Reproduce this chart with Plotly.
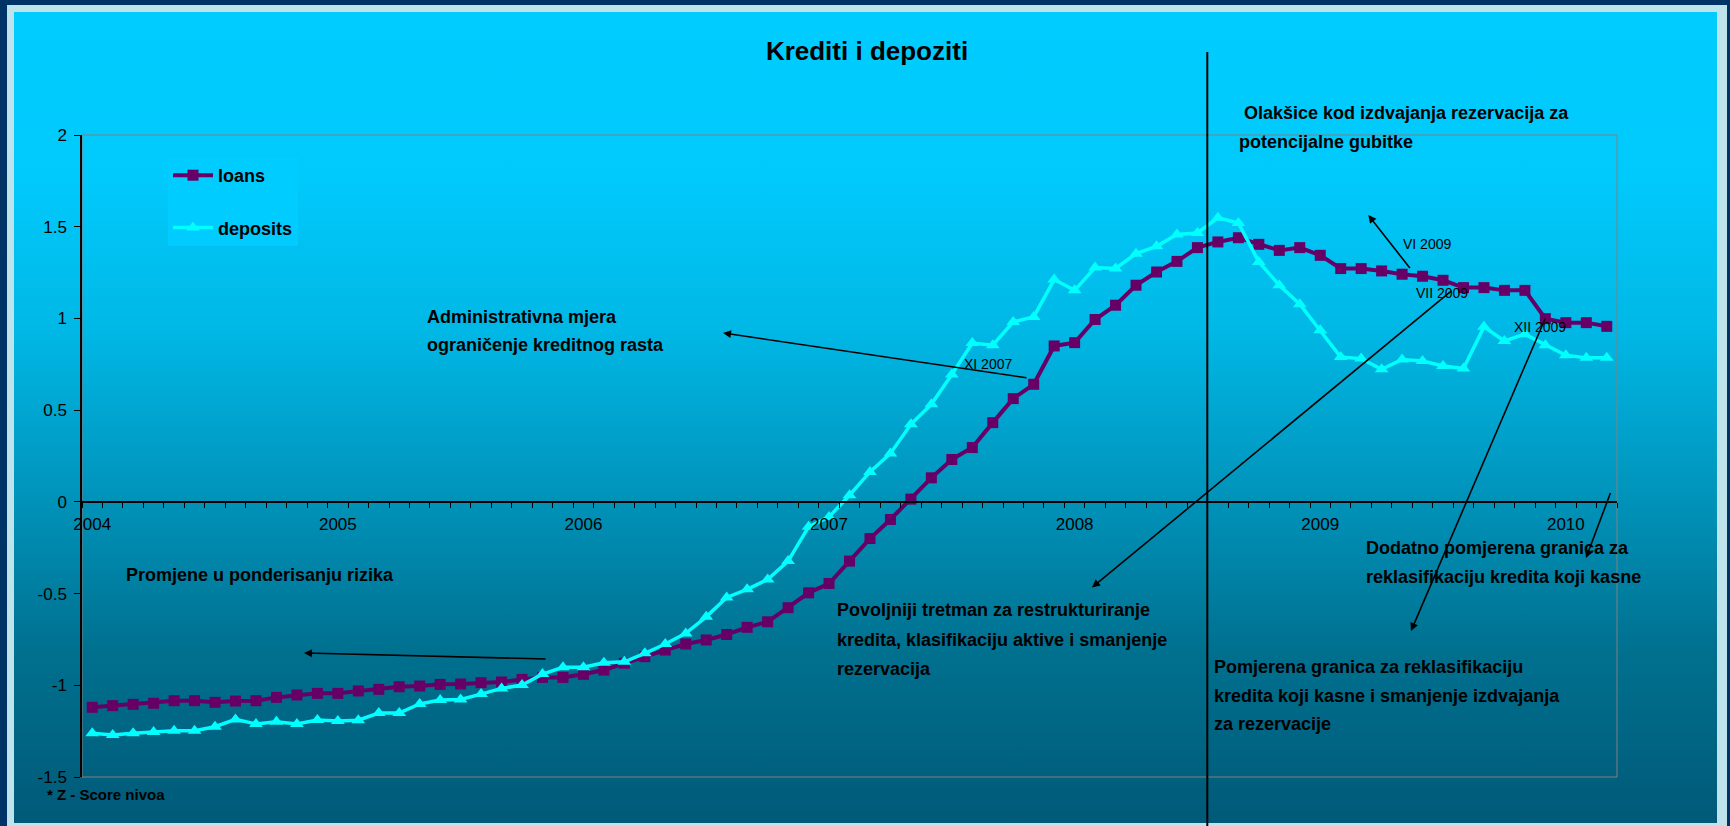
import urllib.parse
import plotly.graph_objects as go

# ---------------- data ----------------
years = ["2004", "2005", "2006", "2007", "2008", "2009", "2010"]

loans = [
    -1.120, -1.111, -1.104, -1.098, -1.084, -1.084, -1.093, -1.086, -1.084, -1.066, -1.053, -1.044,
    -1.044, -1.031, -1.022, -1.008, -1.004, -0.995, -0.993, -0.986, -0.982, -0.968, -0.957, -0.957,
    -0.940, -0.917, -0.880, -0.844, -0.808, -0.775, -0.753, -0.723, -0.684, -0.654, -0.577, -0.496,
    -0.445, -0.323, -0.200, -0.096, 0.015, 0.131, 0.231, 0.296, 0.432, 0.563, 0.641, 0.850,
    0.868, 0.994, 1.072, 1.181, 1.253, 1.311, 1.386, 1.417, 1.440, 1.404, 1.371, 1.386,
    1.344, 1.272, 1.272, 1.259, 1.241, 1.230, 1.208, 1.168, 1.168, 1.153, 1.153, 0.999,
    0.977, 0.977, 0.957,
]

deposits = [
    -1.262, -1.271, -1.262, -1.255, -1.248, -1.248, -1.226, -1.186, -1.211, -1.199, -1.211, -1.189,
    -1.195, -1.190, -1.151, -1.151, -1.102, -1.080, -1.077, -1.048, -1.017, -0.999, -0.939, -0.902,
    -0.902, -0.877, -0.872, -0.826, -0.775, -0.717, -0.627, -0.521, -0.477, -0.423, -0.323, -0.136,
    -0.082, 0.036, 0.163, 0.264, 0.423, 0.532, 0.694, 0.866, 0.854, 0.981, 1.008, 1.212,
    1.153, 1.277, 1.272, 1.353, 1.393, 1.458, 1.466, 1.549, 1.520, 1.308, 1.181, 1.077,
    0.935, 0.790, 0.781, 0.723, 0.776, 0.768, 0.741, 0.727, 0.954, 0.877, 0.914, 0.854,
    0.799, 0.785, 0.785,
]

months = [f"{2004 + i // 12}-{i % 12 + 1:02d}" for i in range(len(loans))]
x_idx = list(range(len(months)))
year_tickvals = [months.index(f"{y}-01") for y in years]

y_tickvals = [-1.5, -1, -0.5, 0, 0.5, 1, 1.5, 2]
y_ticktext = ["-1.5", "-1", "-0.5", "0", "0.5", "1", "1.5", "2"]

# ---------------- layout geometry (pixels) ----------------
W, H = 1730, 826
ML, MR, MT, MB = 82, 113, 135, 49
PW, PH = W - ML - MR, H - MT - MB
Y_MIN, Y_MAX = -1.5, 2.0


def px(xp):
    return (xp - ML) / PW


def py(yp):
    return (H - MB - yp) / PH


FONT = "Liberation Sans, Arial, sans-serif"
NARROW = "Liberation Sans Narrow, Arial Narrow, Liberation Sans, Arial, sans-serif"

# ---------------- background (frame + gradient) as SVG ----------------
svg = (
    f"<svg xmlns='http://www.w3.org/2000/svg' width='{W}' height='{H}' "
    f"viewBox='0 0 {W} {H}' preserveAspectRatio='none'>"
    "<defs><linearGradient id='g' x1='0' y1='0' x2='0' y2='1'>"
    "<stop offset='0' stop-color='#00CCFF'/>"
    "<stop offset='0.2' stop-color='#00CAFC'/>"
    "<stop offset='0.39' stop-color='#00B8E6'/>"
    "<stop offset='0.6' stop-color='#0093BA'/>"
    "<stop offset='0.79' stop-color='#00708F'/>"
    "<stop offset='1' stop-color='#005A78'/>"
    "</linearGradient></defs>"
    f"<rect x='0' y='0' width='{W}' height='{H}' fill='#003366'/>"
    f"<rect x='7' y='5' width='1720' height='{H}' fill='#BFE3EA'/>"
    "<rect x='14' y='12' width='1703' height='811' fill='url(#g)'/>"
    "</svg>"
)
svg_uri = "data:image/svg+xml;charset=utf-8," + urllib.parse.quote(svg)

fig = go.Figure()

fig.add_trace(go.Scatter(
    x=x_idx, y=loans, name="loans", mode="lines+markers",
    customdata=months, hovertemplate="%{customdata}: %{y:.2f}<extra>loans</extra>",
    line=dict(color="#660066", width=4),
    marker=dict(symbol="square", size=11, color="#660066"),
    legendgroup="loans",
))
fig.add_trace(go.Scatter(
    x=x_idx, y=deposits, name="deposits", mode="lines+markers",
    customdata=months, hovertemplate="%{customdata}: %{y:.2f}<extra>deposits</extra>",
    line=dict(color="#00FFFF", width=3.5),
    marker=dict(symbol="triangle-up", size=12, color="#00FFFF"),
    legendgroup="deposits",
))

annotations = []


def text_lines(lines, left, ys, size=18, bold=True, family=FONT):
    for t, yy in zip(lines, ys):
        annotations.append(dict(
            text=t, x=px(left), y=py(yy), xref="paper", yref="paper",
            xanchor="left", yanchor="middle", showarrow=False,
            font=dict(family=family, size=size, color="black",
                      weight="bold" if bold else "normal"),
        ))


def arrow(head, tail):
    annotations.append(dict(
        text="", x=px(head[0]), y=py(head[1]), xref="paper", yref="paper",
        ax=tail[0] - head[0], ay=tail[1] - head[1], axref="pixel", ayref="pixel",
        showarrow=True, arrowhead=2, arrowsize=1, arrowwidth=1.6, arrowcolor="black",
        standoff=0, startstandoff=0,
    ))


text_lines(["Administrativna mjera", "ograničenje kreditnog rasta"], 425, [316.7, 345])
text_lines(["Promjene u ponderisanju rizika"], 124, [575])
text_lines(["Povoljniji tretman za restrukturiranje",
            "kredita, klasifikaciju aktive i smanjenje",
            "rezervacija"], 835, [610, 639.5, 668.5])
text_lines(["Olakšice kod izdvajanja rezervacija za"], 1242, [113])
text_lines(["potencijalne gubitke"], 1237, [141.7])
text_lines(["Dodatno pomjerena granica za",
            "reklasifikaciju kredita koji kasne"], 1364, [548, 577])
text_lines(["Pomjerena granica za reklasifikaciju",
            "kredita koji kasne i smanjenje izdvajanja",
            "za rezervacije"], 1212, [667, 695.5, 724])
text_lines(["* Z - Score nivoa"], 45, [795], size=15)

text_lines(["XI 2007"], 962, [364], size=14, bold=False, family=NARROW)
text_lines(["VI 2009"], 1401, [244], size=14, bold=False, family=NARROW)
text_lines(["VII 2009"], 1414, [293], size=14, bold=False, family=NARROW)
text_lines(["XII 2009"], 1512, [327], size=14, bold=False, family=NARROW)

arrow((723, 333), (1028, 378))
arrow((304, 653), (547, 659))
arrow((1092, 587.5), (1452.6, 290))
arrow((1368.3, 215), (1411, 269.5))
arrow((1411, 631), (1546, 316.7))
arrow((1586, 558), (1611, 491.5))

shapes = [
    # plot area border
    dict(type="rect", xref="paper", yref="paper", x0=0, y0=0, x1=1, y1=1,
         line=dict(color="#808080", width=1), layer="below"),
    # vertical policy line (between VII and VIII 2008)
    dict(type="line", xref="paper", yref="paper", x0=px(1207.3), x1=px(1207.3),
         y0=py(H + 2), y1=py(52), line=dict(color="black", width=2)),
]

fig.update_layout(
    width=W, height=H, autosize=False,
    margin=dict(l=ML, r=MR, t=MT, b=MB, pad=0),
    paper_bgcolor="#003366", plot_bgcolor="rgba(0,0,0,0)",
    font=dict(family=FONT, color="black"),
    title=dict(text="Krediti i depoziti", x=867 / W, xref="container", xanchor="center",
               y=1 - 51 / H, yref="container", yanchor="middle",
               font=dict(family=FONT, size=26, color="black", weight="bold")),
    images=[dict(source=svg_uri, xref="paper", yref="paper",
                 x=px(0), y=py(0), sizex=W / PW, sizey=H / PH,
                 xanchor="left", yanchor="top", sizing="stretch", layer="below")],
    shapes=shapes,
    annotations=annotations,
    showlegend=True,
    legend=dict(x=px(168), y=py(157), xanchor="left", yanchor="top",
                bgcolor="#00CCFF", borderwidth=0, tracegroupgap=26,
                font=dict(family=FONT, size=18, color="black", weight="bold"),
                itemwidth=40),
    xaxis=dict(
        range=[-0.5, len(months) - 0.5], anchor="free",
        position=(0 - Y_MIN) / (Y_MAX - Y_MIN),
        tickmode="array", tickvals=year_tickvals, ticktext=years,
        ticks="", ticklabelstandoff=7,
        tickfont=dict(family=FONT, size=17, color="black"),
        minor=dict(ticks="outside", ticklen=5, tickwidth=1, tickcolor="black",
                   tick0=-0.5, dtick=1, showgrid=False),
        showline=True, linecolor="black", linewidth=2,
        showgrid=False, zeroline=False, fixedrange=True,
    ),
    yaxis=dict(
        range=[Y_MIN, Y_MAX], tickmode="array", tickvals=y_tickvals, ticktext=y_ticktext,
        ticks="outside", ticklen=6, tickwidth=1, tickcolor="black",
        tickfont=dict(family=FONT, size=17, color="black"), ticklabelstandoff=4,
        showline=True, linecolor="black", linewidth=1.5,
        showgrid=False, zeroline=False, fixedrange=True,
    ),
)

fig.write_html("out.html", config={"displayModeBar": False},
               post_script="document.body.style.margin='0';document.body.style.overflow='hidden';")
